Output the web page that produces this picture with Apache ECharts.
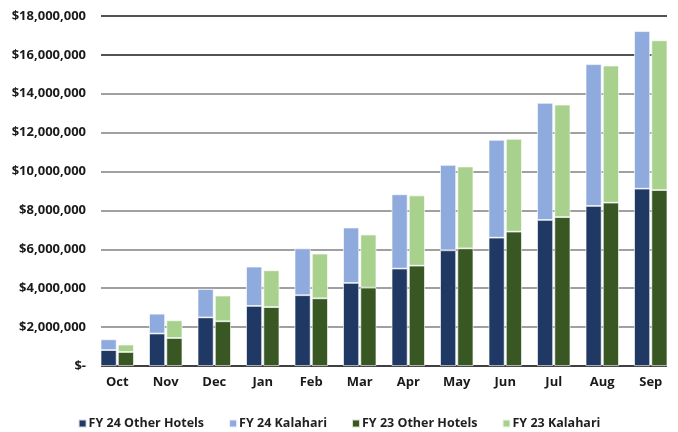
<!DOCTYPE html>
<html>
<head>
<meta charset="utf-8">
<script src="https://cdn.jsdelivr.net/npm/echarts@6/dist/echarts.min.js"></script>
<style>html,body{margin:0;padding:0;background:#fff}#c{width:678px;height:432px}</style>
</head>
<body>
<div id="c"></div>
<script>
var months = ['Oct','Nov','Dec','Jan','Feb','Mar','Apr','May','Jun','Jul','Aug','Sep'];
var fy24Other    = [820000,1670000,2500000,3090000,3640000,4270000,5010000,5950000,6600000,7510000,8230000,9120000];
var fy24Kalahari = [550000,1020000,1460000,2020000,2410000,2850000,3820000,4390000,5030000,6020000,7290000,8100000];
var fy23Other    = [720000,1440000,2300000,3030000,3480000,4030000,5160000,6050000,6910000,7660000,8400000,9050000];
var fy23Kalahari = [380000,910000,1320000,1890000,2300000,2730000,3610000,4210000,4770000,5780000,7050000,7700000];
var yMin = 0, yMax = 18000000, yStep = 2000000;

var FONT = 'Open Sans';
var chart = echarts.init(document.getElementById('c'));
function fmt(v){ return v === 0 ? '$-' : '$' + v.toLocaleString('en-US'); }
var gridColors = ['#000000','#808080','#808080','#808080','#808080','#808080','#808080','#808080','#1a1a1a','#1a1a1a'];
var barStyle = function(c){ return {color:c, borderColor:'rgba(255,255,255,0.8)', borderWidth:0.8}; };
chart.setOption({
  animation:false,
  textStyle:{fontFamily:FONT},
  grid:[
    {left:93, right:3, top:16, bottom:66},
    {left:101, right:11, top:16, bottom:66}
  ],
  legend:{
    bottom:-3, left:'center', icon:'rect', itemWidth:8, itemHeight:8, itemGap:24,
    textStyle:{fontFamily:FONT, fontWeight:'bold', fontSize:12.5, color:'#1f1f1f', padding:[0,0,0,-3]},
    data:['FY 24 Other Hotels','FY 24 Kalahari','FY 23 Other Hotels','FY 23 Kalahari']
  },
  xAxis:[
    {type:'category', gridIndex:0, data:months, axisLine:{show:false}, axisTick:{show:false},
     axisLabel:{margin:10, fontFamily:FONT, fontWeight:'bold', fontSize:13, color:'#1a1a1a'}},
    {type:'value', gridIndex:1, min:0, max:1, show:false}
  ],
  yAxis:[
    {type:'value', gridIndex:0, min:yMin, max:yMax, interval:yStep, show:false, splitLine:{show:false}},
    {type:'value', gridIndex:1, min:yMin, max:yMax, interval:yStep,
     axisLine:{show:false}, axisTick:{show:false},
     axisLabel:{formatter:fmt, margin:15, fontFamily:FONT, fontWeight:'bold', fontSize:13, color:'#1a1a1a'},
     splitLine:{show:true, lineStyle:{color:gridColors, width:1.5}}}
  ],
  series:[
    {name:'FY 24 Other Hotels', type:'bar', stack:'fy24', data:fy24Other, barWidth:16, barGap:'8%', itemStyle:barStyle('#203864')},
    {name:'FY 24 Kalahari', type:'bar', stack:'fy24', data:fy24Kalahari, barWidth:16, barGap:'8%', itemStyle:barStyle('#8faadc')},
    {name:'FY 23 Other Hotels', type:'bar', stack:'fy23', data:fy23Other, barWidth:16, barGap:'8%', itemStyle:barStyle('#385723')},
    {name:'FY 23 Kalahari', type:'bar', stack:'fy23', data:fy23Kalahari, barWidth:16, barGap:'8%', itemStyle:barStyle('#a9d18e')}
  ]
});
</script>
</body>
</html>
